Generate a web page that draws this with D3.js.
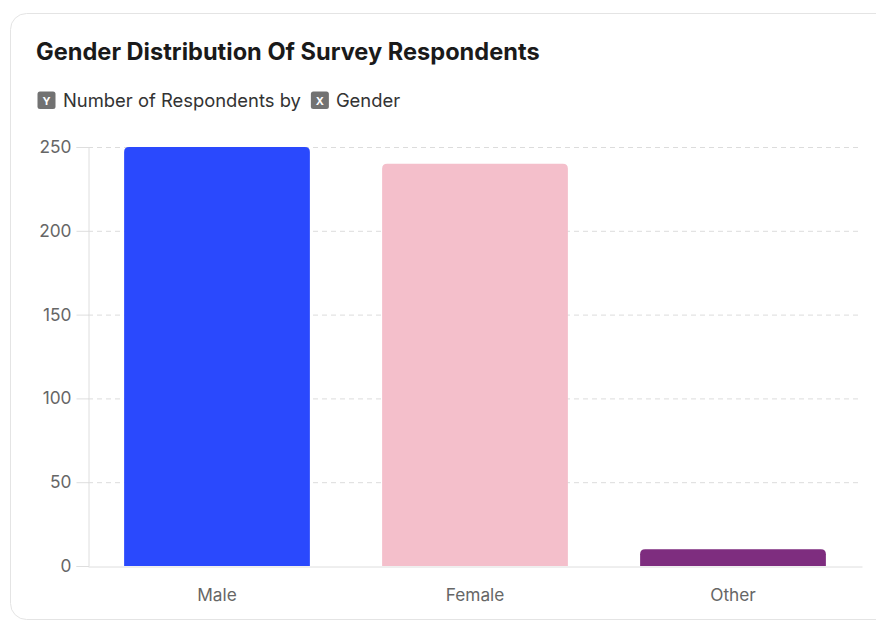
<!DOCTYPE html>
<html><head><meta charset="utf-8">
<script src="https://cdn.jsdelivr.net/npm/d3@7"></script>
<style>
html,body{margin:0;padding:0;background:#fff;}
svg{display:block;}
</style></head>
<body>
<svg id="chart" width="876" height="622"></svg>
<script>
const categories = ["Male", "Female", "Other"];
const respondents = [250, 240, 10];
const barColors = ["#2a49fd", "#f4bfcb", "#7e2d7f"];
const yTicks = [0, 50, 100, 150, 200, 250];
const titleText = "Gender Distribution Of Survey Respondents";
const yLabel = "Number of Respondents by";
const xLabel = "Gender";

const svg = d3.select("#chart");
const font = "Inter, 'Liberation Sans', Arial, sans-serif";

// card
svg.append("rect").attr("x", 10.5).attr("y", 13.5).attr("width", 890).attr("height", 606)
  .attr("rx", 16).attr("fill", "#fff").attr("stroke", "#e4e4e4").attr("stroke-width", 1);

svg.append("text").attr("x", 36).attr("y", 60).text(titleText)
  .attr("font-family", font).attr("font-weight", "bold").attr("font-size", 23.6).attr("fill", "#1a1a1a");

// subtitle with badges
function badge(px, letter) {
  svg.append("rect").attr("x", px).attr("y", 91.5).attr("width", 18).attr("height", 17.5).attr("rx", 2.5).attr("fill", "#727272");
  svg.append("text").attr("x", px + 9).attr("y", 104.5).attr("text-anchor", "middle").text(letter)
    .attr("font-family", font).attr("font-weight", "bold").attr("font-size", 11).attr("fill", "#fff");
}
badge(37.5, "Y");
const t1 = svg.append("text").attr("x", 63).attr("y", 107).text(yLabel)
  .attr("font-family", font).attr("font-size", 18.4).attr("fill", "#333");
const w1 = t1.node().getComputedTextLength();
badge(63 + w1 + 10, "X");
svg.append("text").attr("x", 63 + w1 + 10 + 25).attr("y", 107).text(xLabel)
  .attr("font-family", font).attr("font-size", 18.4).attr("fill", "#333");

const mLeft = 88, mRight = 862, mTop = 147, mBottom = 566;
const x = d3.scaleBand().domain(categories).range([mLeft, mRight]).paddingInner(0.28).paddingOuter(0.14);
const y = d3.scaleLinear().domain([0, 250]).range([mBottom, mTop]);

// grid
svg.append("g").selectAll("line").data(yTicks.filter(d => d > 0)).join("line")
  .attr("x1", mLeft).attr("x2", mRight).attr("y1", d => y(d) + 0.5).attr("y2", d => y(d) + 0.5)
  .attr("stroke", "#dcdcdc").attr("stroke-dasharray", "5,4");

// y axis
const yAxis = svg.append("g").attr("transform", `translate(${mLeft + 0.5},0)`)
  .call(d3.axisLeft(y).tickValues(yTicks).tickSize(12).tickPadding(5));
yAxis.select(".domain").attr("stroke", "#dedede");
yAxis.selectAll(".tick line").attr("stroke", "#dedede");
yAxis.selectAll(".tick text").attr("font-family", font).attr("font-size", 17.3).attr("fill", "#666");

// bars with rounded top corners
const r = 5;
svg.selectAll("path.bar").data(categories).join("path")
  .attr("class", "bar")
  .attr("fill", (d, i) => barColors[i])
  .attr("d", (d, i) => {
    const x0 = x(d), x1 = x(d) + x.bandwidth(), y0 = y(respondents[i]), yb = y(0);
    return `M${x0},${yb} L${x0},${y0 + r} Q${x0},${y0} ${x0 + r},${y0} L${x1 - r},${y0} Q${x1},${y0} ${x1},${y0 + r} L${x1},${yb} Z`;
  });

// x axis
const xAxis = svg.append("g").attr("transform", `translate(0,${mBottom + 0.5})`)
  .call(d3.axisBottom(x).tickSize(0).tickPadding(22));
xAxis.select(".domain").attr("stroke", "#dedede");
xAxis.selectAll(".tick text").attr("font-family", font).attr("font-size", 17.3).attr("fill", "#666");
</script>
</body></html>
